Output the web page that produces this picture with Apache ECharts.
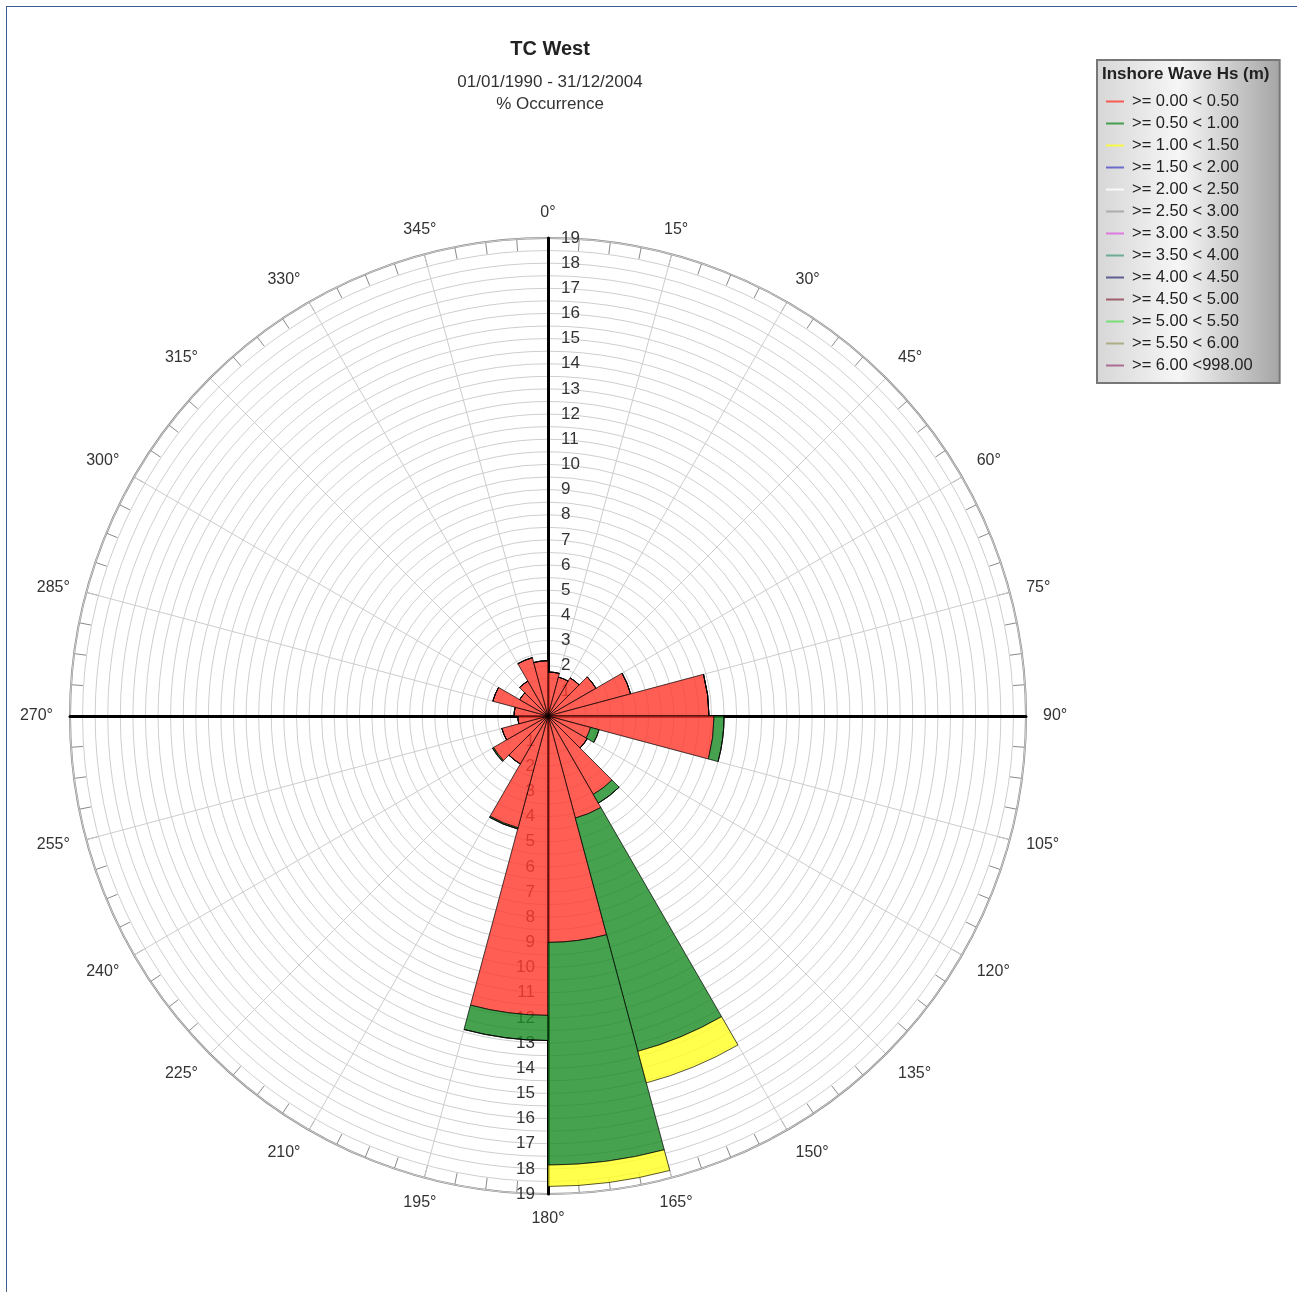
<!DOCTYPE html>
<html>
<head>
<meta charset="utf-8">
<script src="https://cdn.jsdelivr.net/npm/echarts@6/dist/echarts.min.js"></script>
<style>
    html, body { margin: 0; padding: 0; background: #fff; }
    #frame {
        position: absolute; left: 6px; top: 6px;
        width: 1300px; height: 1300px;
        border-left: 1px solid #3f5f93; border-top: 1px solid #3f5f93;
    }
    #chart { position: absolute; left: 0; top: 0; width: 1297px; height: 1292px; }
</style>
</head>
<body>
<div id="frame"></div>
<div id="chart"></div>
<script>
    // direction sectors, 15 degree wide, starting at north
    const sectors = ['0-15', '15-30', '30-45', '45-60', '60-75', '75-90', '90-105', '105-120',
        '120-135', '135-150', '150-165', '165-180', '180-195', '195-210', '210-225', '225-240',
        '240-255', '255-270', '270-285', '285-300', '300-315', '315-330', '330-345', '345-360']

    // % occurrence per Hs class (only the first three classes occur)
    const hs000 = [1.75, 1.6, 1.75, 2.2, 3.4, 6.4, 6.6, 1.75, 1.8, 3.6, 4.2, 9.0,
        11.9, 4.6, 2.2, 2.5, 1.9, 1.2, 1.35, 2.27, 1.3, 1.6, 2.4, 2.2]
    const hs050 = [0, 0, 0, 0, 0, 0, 0.4, 0.35, 0, 0.4, 9.6, 8.85,
        1.0, 0.05, 0, 0.05, 0, 0, 0, 0, 0, 0, 0, 0]
    const hs100 = [0, 0, 0, 0, 0, 0, 0, 0, 0, 0, 1.3, 0.85,
        0, 0, 0, 0, 0, 0, 0, 0, 0, 0, 0, 0]

    const classNames = ['>= 0.00 < 0.50', '>= 0.50 < 1.00', '>= 1.00 < 1.50', '>= 1.50 < 2.00',
        '>= 2.00 < 2.50', '>= 2.50 < 3.00', '>= 3.00 < 3.50', '>= 3.50 < 4.00', '>= 4.00 < 4.50',
        '>= 4.50 < 5.00', '>= 5.00 < 5.50', '>= 5.50 < 6.00', '>= 6.00 <998.00']
    const classData = [hs000, hs050, hs100, [], [], [], [], [], [], [], [], [], []]
    const classColors = ['#ff3b30', '#1e8e2a', '#ffff24', '#5050c8', '#ffffff', '#a0a0a0', '#e060e0',
        '#50a080', '#404080', '#904050', '#60e060', '#a0a070', '#a05080']

    const center = [548, 716]
    const radius = 478
    const rMax = 19

    const chart = echarts.init(document.getElementById('chart'))

    const hiddenAngle = (idx, start) => ({
        polarIndex: idx, type: 'value', min: 0, max: 360, startAngle: start, show: false
    })
    // labels sit right of the north axis and left of the south axis
    const radiusLabel = (align) => ({
        color: '#333', fontSize: 17, fontFamily: 'Liberation Sans',
        margin: -13, align: align,
        formatter: v => (Number.isInteger(v) && v > 0) ? String(v) : ''
    })
    const plainRadius = (idx, label) => ({
        polarIndex: idx, type: 'value', min: 0, max: rMax, interval: 0.5, z: 1,
        axisLine: { show: true, lineStyle: { color: '#000', width: 3 } },
        axisTick: { show: false },
        splitLine: { show: false },
        axisLabel: label || { show: false }
    })

    const series = classNames.map((name, i) => ({
        name: name,
        type: 'bar',
        coordinateSystem: 'polar',
        polarIndex: 4,
        stack: 'hs',
        barCategoryGap: '0%',
        z: 5,
        itemStyle: { color: classColors[i], opacity: 0.82, borderColor: '#000', borderWidth: 0.8 },
        data: classData[i]
    }))

    chart.setOption({
        animation: false,
        textStyle: { fontFamily: 'Liberation Sans' },
        title: [{
            text: 'TC West',
            subtext: '01/01/1990 - 31/12/2004\n% Occurrence',
            left: 545, top: 34, textAlign: 'center', itemGap: 12,
            textStyle: { fontSize: 20, fontWeight: 'bold', color: '#222', fontFamily: 'Liberation Sans' },
            subtextStyle: { fontSize: 17, color: '#333', lineHeight: 22, fontFamily: 'Liberation Sans' }
        }, {
            text: 'Inshore Wave Hs (m)',
            left: 1102, top: 66, padding: 0,
            textStyle: { fontSize: 17, fontWeight: 'bold', color: '#222', fontFamily: 'Liberation Sans' }
        }],
        legend: {
            orient: 'vertical',
            left: 1097, top: 60, width: 183,
            padding: [33, 27, 9, 9],
            itemGap: 5,
            itemWidth: 18, itemHeight: 2,
            icon: 'rect',
            itemStyle: { borderWidth: 0, opacity: 0.8 },
            borderColor: '#777', borderWidth: 2,
            backgroundColor: {
                type: 'linear', x: 0, y: 0, x2: 1, y2: 0,
                colorStops: [{ offset: 0, color: '#d6d6d6' }, { offset: 0.45, color: '#f6f6f6' },
                    { offset: 1, color: '#a4a4a4' }]
            },
            textStyle: { fontSize: 16.5, color: '#222', fontFamily: 'Liberation Sans', padding: [0, 0, 0, 3] },
            selectedMode: false,
            data: classNames
        },
        polar: [0, 1, 2, 3, 4].map(() => ({ center: center, radius: radius })),
        angleAxis: [{
            polarIndex: 0, type: 'value', min: 0, max: 360, interval: 15, startAngle: 90, z: 0,
            axisLine: { show: true, lineStyle: { color: '#8a8a8a', width: 2 } },
            axisTick: { show: true, inside: true, length: 12, lineStyle: { color: '#888' } },
            minorTick: { show: true, splitNumber: 4, length: 12, lineStyle: { color: '#888' } },
            splitLine: { show: true, lineStyle: { color: '#cccccc', width: 1 } },
            axisLabel: { color: '#333', fontSize: 16, margin: 17, formatter: '{value}°' }
        },
            hiddenAngle(1, -90),
            hiddenAngle(2, 0),
            hiddenAngle(3, 180),
            {
                polarIndex: 4, type: 'category', data: sectors, startAngle: 90,
                boundaryGap: true, show: false
            }],
        radiusAxis: [{
            polarIndex: 0, type: 'value', min: 0, max: rMax, interval: 0.5, z: 1,
            axisLine: { show: true, lineStyle: { color: '#000', width: 3 } },
            axisTick: { show: false },
            splitLine: { show: true, lineStyle: { color: '#cecece', width: 1 } },
            axisLabel: radiusLabel('left')
        },
            plainRadius(1, radiusLabel('right')),
            plainRadius(2),
            plainRadius(3),
            { polarIndex: 4, type: 'value', min: 0, max: rMax, show: false }],
        series: series
    })
</script>
</body>
</html>
